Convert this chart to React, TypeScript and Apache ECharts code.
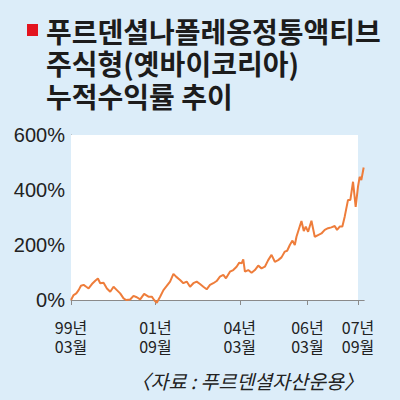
import React, { useEffect, useRef } from "react";
import * as echarts from "echarts";

// Months since 1999-03 and cumulative return (%)
const months = [
  0.0, 0.93, 1.88, 2.71, 3.54, 4.48, 5.43, 6.25, 7.44, 8.62, 9.56, 10.39, 11.57, 12.76, 13.94,
  15.12, 16.3, 17.48, 18.67, 19.61, 21.03, 22.21, 23.39, 24.58, 25.99, 27.53, 28.71, 29.54,
  30.49, 31.67, 32.85, 34.03, 35.21, 36.4, 37.34, 38.76, 39.94, 41.12, 42.31, 43.49, 44.67,
  45.85, 47.03, 48.22, 49.4, 50.58, 51.76, 52.94, 54.13, 55.07, 56.49, 57.67, 58.85, 59.8,
  60.63, 61.22, 61.81, 62.99, 64.17, 65.36, 66.54, 67.72, 68.9, 70.08, 71.27, 72.45, 73.63,
  74.81, 75.99, 76.82, 77.77, 78.71, 79.54, 80.13, 81.08, 81.9, 82.73, 83.44, 84.27, 85.45,
  86.63, 87.81, 89.0, 90.18, 91.36, 92.54, 93.72, 94.55, 95.5, 96.44, 97.27, 98.45, 99.28,
  100.23, 101.17, 102.0, 102.59, 103.18, 104.01,
];
const returns = [
  0, 18, 24, 36, 52, 55, 48, 42, 58, 70, 78, 61, 63, 42, 30,
  48, 36, 24, 6, 0, 2, 15, 10, 2, 22, 12, 12, 0,
  -10, 12, 36, 51, 67, 95, 85, 73, 61, 67, 48, 61, 67,
  58, 48, 39, 55, 61, 69, 85, 91, 79, 103, 109, 121, 136,
  133, 148, 103, 109, 99, 109, 125, 115, 121, 145, 164, 139, 145,
  155, 176, 179, 200, 216, 200, 230, 261, 287, 251, 267, 248, 288,
  230, 236, 242, 255, 261, 264, 269, 255, 267, 267, 303, 364, 364,
  430, 339, 412, 448, 436, 482,
];
const xTickMonths = [0, 30, 60, 84, 102];
const xTickLabels = ["99년\n03월", "01년\n09월", "04년\n03월", "06년\n03월", "07년\n09월"];
const yLabelValues = [0, 200, 400, 600];
const plotEndMonth = 102;
const axisEndMonth = 104.2;

const titleLines = ["푸르덴셜나폴레옹정통액티브", "주식형(옛바이코리아)", "누적수익률 추이"];
const sourceText = "〈자료 : 푸르덴셜자산운용〉";

export default function App() {
  const ref = useRef<HTMLDivElement>(null);
  useEffect(() => {
    if (!ref.current) return;
    const chart = echarts.init(ref.current, null, { renderer: "svg" });
    const kr = "'Noto Sans CJK KR', sans-serif";
    chart.setOption({
      animation: false,
      backgroundColor: "#dcedf9",
      grid: {
        left: 71,
        top: 135,
        width: 293.2,
        height: 165,
        show: false,
      },
      xAxis: {
        type: "value",
        min: 0,
        max: axisEndMonth,
        axisLine: { show: true, lineStyle: { color: "#8a8a8a", width: 1 } },
        axisTick: {
          show: true,
          inside: false,
          length: 5,
          customValues: xTickMonths,
          lineStyle: { color: "#8a8a8a" },
        },
        axisLabel: {
          customValues: xTickMonths,
          formatter: (v: number) => {
            const i = xTickMonths.indexOf(v);
            return i >= 0 ? xTickLabels[i] : "";
          },
          margin: 17,
          fontSize: 16,
          lineHeight: 19,
          color: "#222222",
          fontFamily: "'Liberation Sans Narrow', 'Noto Sans CJK KR', sans-serif",
        },
        splitLine: { show: false },
      },
      yAxis: {
        type: "value",
        min: 0,
        max: 600,
        interval: 100,
        axisLine: { show: true, lineStyle: { color: "#8a8a8a", width: 1 } },
        axisTick: { show: true, inside: true, length: 3, lineStyle: { color: "#8a8a8a" } },
        axisLabel: {
          formatter: (v: number) => (yLabelValues.indexOf(v) >= 0 ? v + "%" : ""),
          margin: 6,
          fontSize: 20,
          color: "#222222",
          fontFamily: "'Liberation Sans', Arial, sans-serif",
        },
        splitLine: { show: false },
      },
      series: [
        {
          type: "line",
          data: months.map((m, i) => [m, returns[i]]),
          showSymbol: false,
          clip: false,
          lineStyle: { color: "#ee7d3b", width: 2 },
          z: 5,
          markArea: {
            silent: true,
            itemStyle: { color: "#ffffff" },
            data: [[{ coord: [0, 0] }, { coord: [plotEndMonth, 600] }]],
          },
        },
      ],
      graphic: [
        { type: "rect", shape: { x: 27, y: 24, width: 11, height: 12 }, style: { fill: "#e3141f" } },
        {
          type: "text",
          x: 46,
          y: 31,
          style: {
            text: titleLines[0],
            font: `bold 28px ${kr}`,
            fill: "#1c1c1c",
            verticalAlign: "middle",
          },
        },
        {
          type: "text",
          x: 46,
          y: 63,
          style: {
            text: titleLines[1],
            font: `bold 28px ${kr}`,
            fill: "#1c1c1c",
            verticalAlign: "middle",
          },
        },
        {
          type: "text",
          x: 46,
          y: 96,
          style: {
            text: titleLines[2],
            font: `bold 28px ${kr}`,
            fill: "#1c1c1c",
            verticalAlign: "middle",
          },
        },
        {
          type: "text",
          x: 131,
          y: 380,
          style: {
            text: sourceText,
            font: `italic 19.5px ${kr}`,
            fill: "#222222",
            verticalAlign: "middle",
          },
        },
      ],
    });
    return () => chart.dispose();
  }, []);
  return (
    <div
      ref={ref}
      style={{ position: "absolute", left: 0, top: 0, width: 400, height: 400 }}
    />
  );
}
